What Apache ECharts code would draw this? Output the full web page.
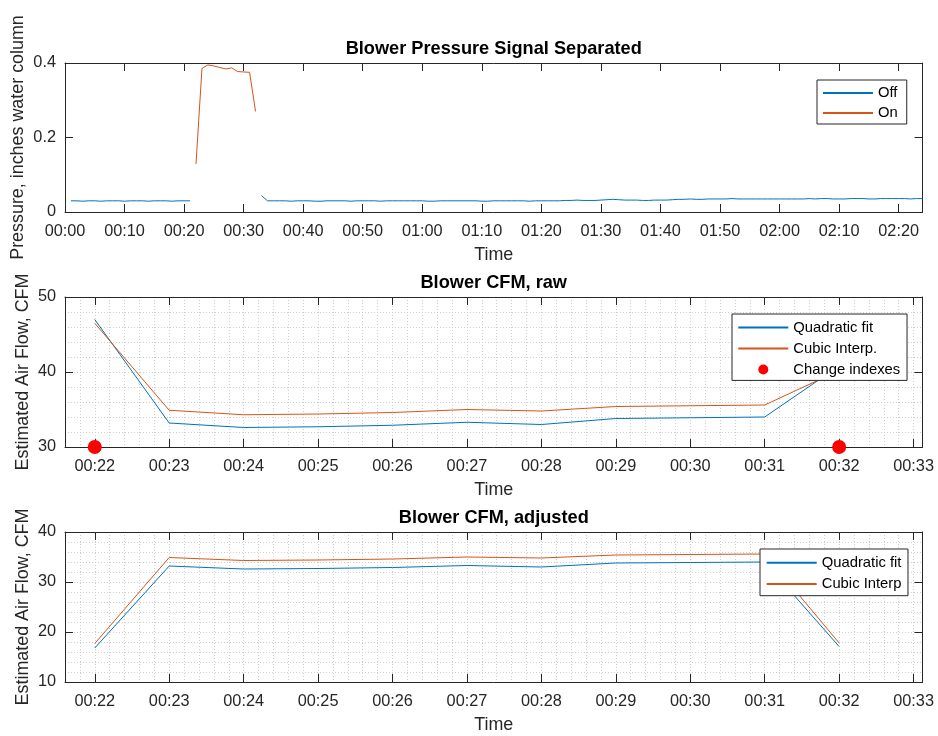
<!DOCTYPE html>
<html>
<head>
<meta charset="utf-8">
<script src="https://cdn.jsdelivr.net/npm/echarts@6/dist/echarts.min.js"></script>
<style>
  html, body { margin: 0; padding: 0; background: #ffffff; }
  #chart { width: 938px; height: 736px; }
</style>
</head>
<body>
<div id="chart"></div>
<script>
// ---- Blower pressure, one sample per minute (inches water column) ----
const offStartA = 1;          // first "off" run starts at 00:01
const offValuesA = [0.030, 0.030, 0.029, 0.030, 0.030, 0.029, 0.030, 0.030, 0.030, 0.029,
                    0.030, 0.030, 0.030, 0.029, 0.030, 0.030, 0.030, 0.029, 0.030, 0.030,
                    0.030];
const onStart = 22;           // blower running from 00:22
const onValues = [0.129, 0.385, 0.395, 0.392, 0.388, 0.384, 0.387, 0.377, 0.376, 0.375, 0.270];
const offStartB = 33;         // second "off" run starts at 00:33
const offValuesB = [0.044, 0.030, 0.030, 0.030, 0.030, 0.029, 0.030,
                    0.030, 0.030, 0.029, 0.029, 0.030, 0.030, 0.030, 0.030, 0.029, 0.030,
                    0.030, 0.030, 0.030, 0.029, 0.030, 0.030, 0.030, 0.030, 0.030, 0.030,
                    0.030, 0.029, 0.029, 0.030, 0.030, 0.030, 0.030, 0.030, 0.030, 0.030,
                    0.029, 0.029, 0.030, 0.030, 0.030, 0.030, 0.030, 0.030, 0.029, 0.030,
                    0.030, 0.030, 0.030, 0.030, 0.031, 0.031, 0.032, 0.031, 0.031, 0.031,
                    0.032, 0.033, 0.034, 0.033, 0.032, 0.032, 0.032, 0.031, 0.031, 0.032,
                    0.032, 0.032, 0.033, 0.034, 0.034, 0.035, 0.034, 0.034, 0.035, 0.035,
                    0.035, 0.035, 0.036, 0.035, 0.035, 0.035, 0.035, 0.035, 0.035, 0.035,
                    0.035, 0.035, 0.035, 0.035, 0.035, 0.036, 0.035, 0.036, 0.036, 0.035,
                    0.035, 0.035, 0.036, 0.036, 0.036, 0.035, 0.035, 0.036, 0.036, 0.036,
                    0.036, 0.036, 0.035, 0.036, 0.036];

// ---- Estimated air flow while the blower runs (CFM) ----
const cfmMinutes = [22, 23, 24, 25, 26, 27, 28, 29, 30, 31, 32];
const quadraticRaw = [47.0, 33.2, 32.6, 32.7, 32.9, 33.3, 33.0, 33.8, 33.9, 34.0, 40.8];
const cubicRaw     = [46.5, 34.9, 34.3, 34.4, 34.6, 35.0, 34.8, 35.4, 35.5, 35.6, 40.2];
const quadraticAdj = [16.8, 33.2, 32.6, 32.7, 32.9, 33.3, 33.0, 33.8, 33.9, 34.0, 17.1];
const cubicAdj     = [17.7, 34.9, 34.3, 34.4, 34.6, 35.0, 34.8, 35.4, 35.5, 35.6, 17.8];
const changeMinutes = [22, 32];
const changeLevels  = [30, 30];

// ---- Axis ticks (minutes after start) ----
const pressureTimeTicks = [0, 10, 20, 30, 40, 50, 60, 70, 80, 90, 100, 110, 120, 130, 140];
const cfmTimeTicks = [22, 23, 24, 25, 26, 27, 28, 29, 30, 31, 32, 33];

const FONT = '"Liberation Sans", Arial, Helvetica, sans-serif';
const AXIS_COLOR = '#262626';
const BLUE = '#0072BD';
const ORANGE = '#D95319';

function hhmm(v) {
  const h = Math.floor(v / 60);
  const m = Math.round(v - h * 60);
  return String(h).padStart(2, '0') + ':' + String(m).padStart(2, '0');
}

function pairs(xs, ys) { return xs.map((x, i) => [x, ys[i]]); }
function runPairs(start, ys) { return ys.map((y, i) => [start + i, y]); }

const tickStyle = { show: true, inside: true, length: 8, lineStyle: { color: AXIS_COLOR, width: 1 } };
const lineStyleAxis = { show: true, onZero: false, lineStyle: { color: AXIS_COLOR, width: 1 } };
const labelStyle = { color: AXIS_COLOR, fontSize: 16.3, fontFamily: FONT };
const nameStyle = { color: AXIS_COLOR, fontSize: 17.9, fontFamily: FONT };

function bottomTimeAxis(gridIndex, min, max, ticks) {
  return {
    type: 'value', gridIndex, position: 'bottom', min, max, z: 1,
    name: 'Time', nameLocation: 'middle', nameGap: 34, nameTextStyle: nameStyle,
    axisLine: lineStyleAxis,
    axisTick: Object.assign({ customValues: ticks }, tickStyle),
    axisLabel: Object.assign({ customValues: ticks, margin: 11.5, formatter: hhmm }, labelStyle),
    splitLine: { show: false }, minorTick: { show: false }, minorSplitLine: { show: false }
  };
}
function topTimeAxis(gridIndex, min, max, ticks) {
  return {
    type: 'value', gridIndex, position: 'top', min, max, z: 1,
    axisLine: lineStyleAxis,
    axisTick: Object.assign({ customValues: ticks }, tickStyle),
    axisLabel: { show: false },
    splitLine: { show: false }
  };
}
// Light dotted grid (every 0.2 min / every 2 CFM)
function dottedAxis(kind, gridIndex, min, max, interval) {
  return {
    type: 'value', gridIndex, position: kind === 'x' ? 'bottom' : 'left', min, max, interval, z: 0,
    axisLine: { show: false }, axisTick: { show: false }, axisLabel: { show: false },
    splitLine: { show: true, lineStyle: { color: '#cfcfcf', width: 1, type: [1, 2] } }
  };
}
function leftValueAxis(gridIndex, min, max, interval, name, nameGap) {
  return {
    type: 'value', gridIndex, position: 'left', min, max, interval, z: 1,
    name, nameLocation: 'middle', nameGap, nameMoveOverlap: false, nameTextStyle: nameStyle,
    axisLine: lineStyleAxis, axisTick: tickStyle,
    axisLabel: Object.assign({ margin: 9 }, labelStyle),
    splitLine: { show: false }
  };
}
function rightValueAxis(gridIndex, min, max, interval) {
  return {
    type: 'value', gridIndex, position: 'right', min, max, interval, z: 1,
    axisLine: lineStyleAxis, axisTick: tickStyle,
    axisLabel: { show: false }, splitLine: { show: false }
  };
}

function lineSeries(name, color, xIdx, yIdx, data) {
  return {
    type: 'line', name, xAxisIndex: xIdx, yAxisIndex: yIdx, data,
    symbol: 'none', showSymbol: false, silent: true,
    lineStyle: { color, width: 1 }, itemStyle: { color },
    emphasis: { disabled: true }
  };
}

// Legend entries for lines show only the line sample (no marker)
function lineEntry(name) { return { name, itemStyle: { opacity: 0 } }; }

const legendText = { color: '#000000', fontSize: 14.8, fontFamily: FONT, lineHeight: 15 };
function legendBox(left, top, entries, gap, padding) {
  return {
    orient: 'vertical', left, top, data: entries, selectedMode: false,
    itemWidth: 50, itemHeight: 10, itemGap: gap, padding,
    backgroundColor: '#ffffff', borderColor: AXIS_COLOR, borderWidth: 1, borderRadius: 0,
    textStyle: legendText
  };
}

const gridLeft = 65, gridWidth = 857.5;
const cfmMin = 21.6, cfmMax = 33.12;

const option = {
  animation: false,
  backgroundColor: '#ffffff',
  title: [
    { text: 'Blower Pressure Signal Separated', left: gridLeft + gridWidth / 2, top: 49 },
    { text: 'Blower CFM, raw', left: gridLeft + gridWidth / 2, top: 283 },
    { text: 'Blower CFM, adjusted', left: gridLeft + gridWidth / 2, top: 518 }
  ].map(t => Object.assign(t, {
    textAlign: 'center', textVerticalAlign: 'middle', padding: 0,
    textStyle: { color: '#000000', fontSize: 18.2, fontWeight: 'bold', fontFamily: FONT }
  })),
  grid: [
    { left: gridLeft, width: gridWidth, top: 63, height: 149, containLabel: false, outerBoundsMode: 'none' },
    { left: gridLeft, width: gridWidth, top: 297, height: 150, containLabel: false, outerBoundsMode: 'none' },
    { left: gridLeft, width: gridWidth, top: 532, height: 150, containLabel: false, outerBoundsMode: 'none' }
  ],
  xAxis: [
    bottomTimeAxis(0, 0, 144, pressureTimeTicks),   // 0
    topTimeAxis(0, 0, 144, pressureTimeTicks),      // 1
    dottedAxis('x', 1, cfmMin, cfmMax, 0.2),        // 2
    bottomTimeAxis(1, cfmMin, cfmMax, cfmTimeTicks),// 3
    topTimeAxis(1, cfmMin, cfmMax, cfmTimeTicks),   // 4
    dottedAxis('x', 2, cfmMin, cfmMax, 0.2),        // 5
    bottomTimeAxis(2, cfmMin, cfmMax, cfmTimeTicks),// 6
    topTimeAxis(2, cfmMin, cfmMax, cfmTimeTicks)    // 7
  ],
  yAxis: [
    leftValueAxis(0, 0, 0.4, 0.2, 'Pressure, inches water column', 38), // 0
    rightValueAxis(0, 0, 0.4, 0.2),                                      // 1
    dottedAxis('y', 1, 30, 50, 2),                                       // 2
    leftValueAxis(1, 30, 50, 10, 'Estimated Air Flow, CFM', 33),         // 3
    rightValueAxis(1, 30, 50, 10),                                       // 4
    dottedAxis('y', 2, 10, 40, 2),                                       // 5
    leftValueAxis(2, 10, 40, 10, 'Estimated Air Flow, CFM', 33),         // 6
    rightValueAxis(2, 10, 40, 10)                                        // 7
  ],
  legend: [
    legendBox(817, 80, [lineEntry('Off'), lineEntry('On')], 5, [5.5, 9, 3.5, 5]),
    legendBox(732, 314, [lineEntry('Quadratic fit'), lineEntry('Cubic Interp.'), { name: 'Change indexes' }],
              6, [6, 6.8, 3.4, 5.3]),
    legendBox(760, 549, [lineEntry('Quadratic fit'), lineEntry('Cubic Interp')], 6.3, [6.2, 6.5, 4.2, 5.7])
  ],
  series: [
    lineSeries('Off', BLUE, 0, 0, runPairs(offStartA, offValuesA)),
    lineSeries('On', ORANGE, 0, 0, runPairs(onStart, onValues)),
    lineSeries('Off', BLUE, 0, 0, runPairs(offStartB, offValuesB)),

    lineSeries('Quadratic fit', BLUE, 3, 3, pairs(cfmMinutes, quadraticRaw)),
    lineSeries('Cubic Interp.', ORANGE, 3, 3, pairs(cfmMinutes, cubicRaw)),
    {
      type: 'scatter', name: 'Change indexes', xAxisIndex: 3, yAxisIndex: 3,
      data: pairs(changeMinutes, changeLevels), symbol: 'circle', symbolSize: 14,
      itemStyle: { color: '#ff0000', opacity: 1 }, clip: false, silent: true, z: 3
    },

    lineSeries('Quadratic fit', BLUE, 6, 6, pairs(cfmMinutes, quadraticAdj)),
    lineSeries('Cubic Interp', ORANGE, 6, 6, pairs(cfmMinutes, cubicAdj))
  ]
};

const chart = echarts.init(document.getElementById('chart'), null, { renderer: 'canvas' });
chart.setOption(option);
</script>
</body>
</html>
